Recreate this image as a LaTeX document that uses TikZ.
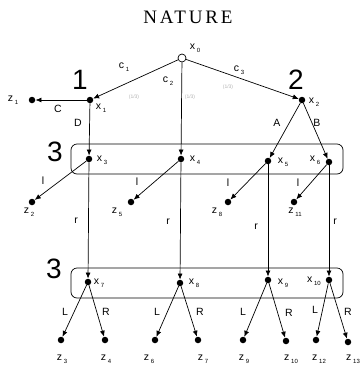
\documentclass[tikz,border=0pt]{standalone}
\usepackage{fontspec}
\setmainfont{Liberation Sans}
\newfontfamily\natfont[LetterSpace=15]{Liberation Serif}
\usetikzlibrary{arrows.meta}
\newcommand\subs[1]{\,\raisebox{-0.5ex}{\fontsize{6}{6}\selectfont #1}}
\begin{document}
\begin{tikzpicture}[x=1pt,y=-1pt,font=\fontsize{10.5}{11}\selectfont,
  dot/.style={circle,fill,inner sep=0pt,minimum size=6.5pt},
  odot/.style={circle,draw,fill=white,inner sep=0pt,minimum size=8pt,line width=0.7pt},
  edge/.style={draw,line width=0.7pt,-{Latex[length=6pt,width=5pt]}},
  lbl/.style={inner sep=0pt},
  prob/.style={inner sep=0pt,text=black!30,font=\fontsize{5}{5}\selectfont},
  big/.style={inner sep=0pt,font=\fontsize{28}{28}\selectfont},
  iset/.style={draw,rounded corners=6pt,line width=0.7pt}]
\useasboundingbox (0,0) rectangle (363,373);

\node[lbl,font=\natfont\fontsize{19}{19}\selectfont] (nat) at (188,17) {NATURE};

% information sets
\draw[iset] (71,144) rectangle (343,174);
\draw[iset] (71,268) rectangle (343,298);
\node[big] (p1) at (80,80) {1};
\node[big] (p2) at (296,80) {2};
\node[big] (p3a) at (55,152) {3};
\node[big] (p3b) at (54,269) {3};

% decision nodes
\node[odot] (x0) at (182,58) {};
\node[dot] (x1) at (90,100) {};
\node[dot] (z1) at (32,100) {};
\node[dot] (x2) at (302,100) {};
\node[dot] (x3) at (89,159) {};
\node[dot] (x4) at (181,159) {};
\node[dot] (x5) at (268,161) {};
\node[dot] (x6) at (329,162) {};
\node[dot] (z2) at (32,202) {};
\node[dot] (z5) at (131,202) {};
\node[dot] (z8) at (228,202) {};
\node[dot] (z11) at (294,202) {};
\node[dot] (x7) at (88,282) {};
\node[dot] (x8) at (180,283) {};
\node[dot] (x9) at (268,280) {};
\node[dot] (x10) at (329,280) {};
\node[dot] (z3) at (61,340) {};
\node[dot] (z4) at (105,340) {};
\node[dot] (z6) at (155,340) {};
\node[dot] (z7) at (198,340) {};
\node[dot] (z9) at (243,340) {};
\node[dot] (z10) at (286,341) {};
\node[dot] (z12) at (316,340) {};
\node[dot] (z13) at (348,342) {};

% edges
\draw[edge] (x0) -- (x1);
\draw[edge] (x0) -- (x4);
\draw[edge] (x0) -- (x2);
\draw[edge] (x1) -- (z1);
\draw[edge] (x1) -- (x3);
\draw[edge] (x2) -- (x5);
\draw[edge] (x2) -- (x6);
\draw[edge] (x3) -- (z2);
\draw[edge] (x4) -- (z5);
\draw[edge] (x5) -- (z8);
\draw[edge] (x6) -- (z11);
\draw[edge] (x3) -- (x7);
\draw[edge] (x4) -- (x8);
\draw[edge] (x5) -- (x9);
\draw[edge] (x6) -- (x10);
\draw[edge] (x7) -- (z3);
\draw[edge] (x7) -- (z4);
\draw[edge] (x8) -- (z6);
\draw[edge] (x8) -- (z7);
\draw[edge] (x9) -- (z9);
\draw[edge] (x9) -- (z10);
\draw[edge] (x10) -- (z12);
\draw[edge] (x10) -- (z13);

% node labels
\node[lbl] (lx0) at (195,48) {x\subs{0}};
\node[lbl] (lx1) at (101,108) {x\subs{1}};
\node[lbl] (lz1) at (13,100) {z\subs{1}};
\node[lbl] (lx2) at (314,102) {x\subs{2}};
\node[lbl] (lx3) at (102,160) {x\subs{3}};
\node[lbl] (lx4) at (195,160) {x\subs{4}};
\node[lbl] (lx5) at (283,162) {x\subs{5}};
\node[lbl] (lx6) at (315,160) {x\subs{6}};
\node[lbl] (lz2) at (29,212) {z\subs{2}};
\node[lbl] (lz5) at (117,212) {z\subs{5}};
\node[lbl] (lz8) at (217,212) {z\subs{8}};
\node[lbl] (lz11) at (295,212) {z\subs{11}};
\node[lbl] (lx7) at (99,283) {x\subs{7}};
\node[lbl] (lx8) at (194,283) {x\subs{8}};
\node[lbl] (lx9) at (283,283) {x\subs{9}};
\node[lbl] (lx10) at (314,281) {x\subs{10}};
\node[lbl] (lz3) at (62,359) {z\subs{3}};
\node[lbl] (lz4) at (106,359) {z\subs{4}};
\node[lbl] (lz6) at (149,359) {z\subs{6}};
\node[lbl] (lz7) at (203,359) {z\subs{7}};
\node[lbl] (lz9) at (244,359) {z\subs{9}};
\node[lbl] (lz10) at (291,359) {z\subs{10}};
\node[lbl] (lz12) at (319,359) {z\subs{12}};
\node[lbl] (lz13) at (353,359) {z\subs{13}};

% action labels
\node[lbl] (c1) at (124,67) {c\subs{1}};
\node[lbl] (c2) at (168,81) {c\subs{2}};
\node[lbl] (c3) at (239,70) {c\subs{3}};
\node[prob] (pc1) at (134,97) {(1/3)};
\node[prob] (pc2) at (190,97) {(1/3)};
\node[prob] (pc3) at (228,87) {(1/3)};
\node[lbl] (aC) at (58,109) {C};
\node[lbl] (aD) at (78,123) {D};
\node[lbl] (aA) at (277,123) {A};
\node[lbl] (aB) at (317,123) {B};
\node[lbl] (l1) at (43,181) {l};
\node[lbl] (l2) at (137,182) {l};
\node[lbl] (l3) at (228,183) {l};
\node[lbl] (l4) at (298,183) {l};
\node[lbl] (r1) at (76,221) {r};
\node[lbl] (r2) at (168,222) {r};
\node[lbl] (r3) at (256,227) {r};
\node[lbl] (r4) at (335,222) {r};
\node[lbl] (L1) at (65,312) {L};
\node[lbl] (R1) at (106,312) {R};
\node[lbl] (L2) at (157,312) {L};
\node[lbl] (R2) at (200,312) {R};
\node[lbl] (L3) at (243,312) {L};
\node[lbl] (R3) at (289,313) {R};
\node[lbl] (L4) at (315,310) {L};
\node[lbl] (R4) at (348,312) {R};
\end{tikzpicture}
\end{document}
